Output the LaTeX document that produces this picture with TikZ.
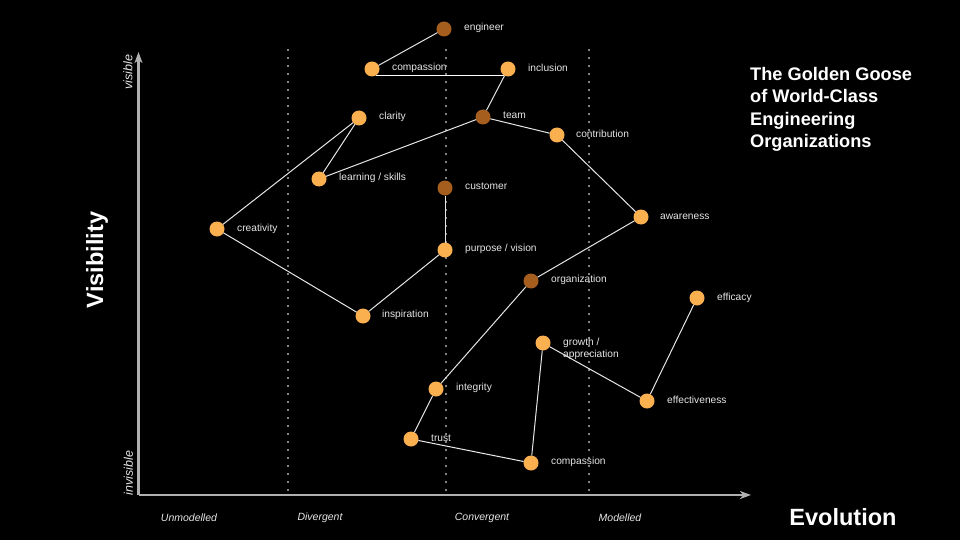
\documentclass[tikz,border=0pt]{standalone}
\usepackage{fontspec}
\setmainfont{Liberation Sans}
\usetikzlibrary{arrows.meta}
\definecolor{dotorange}{HTML}{FBB04F}
\definecolor{dotbrown}{HTML}{A65E1E}
\definecolor{axisgray}{HTML}{B0B0B0}
\definecolor{labelgray}{HTML}{E6E6E6}
\begin{document}
\begin{tikzpicture}[x=1pt,y=-1pt,
  dotA/.style={circle,fill=dotorange,minimum size=15pt,inner sep=0pt,outer sep=0pt},
  dotB/.style={circle,fill=dotbrown,minimum size=15pt,inner sep=0pt,outer sep=0pt},
  lbl/.style={anchor=west,text=labelgray,font=\fontsize{10.2}{12}\selectfont,inner sep=0pt},
  axlbl/.style={text=labelgray,font=\fontsize{10.5}{12.5}\selectfont\itshape,inner sep=0pt},
  vlbl/.style={text=labelgray,font=\fontsize{12.5}{14}\selectfont\itshape,inner sep=0pt,rotate=90},
  edge/.style={draw=labelgray,line width=1pt},
  stagedots/.style={draw=axisgray,line width=2.4pt,line cap=round,dash pattern=on 0pt off 8pt},
  axis/.style={draw=axisgray,line width=2.2pt,-{Stealth[length=11pt,width=8pt,inset=3pt]}},
  big/.style={text=white,font=\fontsize{23.5}{28}\selectfont\bfseries,inner sep=0pt}
]
\fill[black] (0,0) rectangle (960,540);
\useasboundingbox (0,0) rectangle (960,540);

% labels
\node[lbl] at (464,28) {engineer};
\node[lbl] at (392,68) {compassion};
\node[lbl] at (528,68) {inclusion};
\node[lbl] at (503,115) {team};
\node[lbl] at (576,134) {contribution};
\node[lbl] at (379,117) {clarity};
\node[lbl] at (339,178) {learning / skills};
\node[lbl] at (465,186) {customer};
\node[lbl] at (237,229) {creativity};
\node[lbl] at (465,249) {purpose / vision};
\node[lbl] at (660,217) {awareness};
\node[lbl] at (551,280) {organization};
\node[lbl] at (382,315) {inspiration};
\node[lbl] at (717,298) {efficacy};
\node[lbl,align=left,anchor=north west] at (563,338) {growth /\\appreciation};
\node[lbl] at (667,400) {effectiveness};
\node[lbl] at (456,388) {integrity};
\node[lbl] at (431,438) {trust};
\node[lbl] at (551,462) {compassion};

% stage separators
\coordinate (s1t) at (288,50); \coordinate (s1b) at (288,492);
\coordinate (s2t) at (446,50); \coordinate (s2b) at (446,492);
\coordinate (s3t) at (589,50); \coordinate (s3b) at (589,492);
\draw[stagedots] (s1t) -- (s1b);
\draw[stagedots] (s2t) -- (s2b);
\draw[stagedots] (s3t) -- (s3b);

% axes
\coordinate (origin) at (138.5,495);
\coordinate (ytip) at (138.5,52);
\coordinate (xtip) at (751,495);
\draw[axis] (origin) -- (ytip);
\draw[axis] (origin) -- (xtip);

% dots
\node[dotB] (engineer) at (444,29) {};
\node[dotA] (comp1) at (372,69) {};
\node[dotA] (inclusion) at (508,69) {};
\node[dotB] (team) at (483,117) {};
\node[dotA] (contribution) at (557,135) {};
\node[dotA] (clarity) at (359,118) {};
\node[dotA] (learning) at (319,179) {};
\node[dotB] (customer) at (445,188) {};
\node[dotA] (creativity) at (217,229) {};
\node[dotA] (purpose) at (445,250) {};
\node[dotA] (awareness) at (641,217) {};
\node[dotB] (organization) at (531,281) {};
\node[dotA] (inspiration) at (363,316) {};
\node[dotA] (efficacy) at (697,298) {};
\node[dotA] (growth) at (543,343) {};
\node[dotA] (effectiveness) at (647,401) {};
\node[dotA] (integrity) at (436,389) {};
\node[dotA] (trust) at (411,439) {};
\node[dotA] (comp2) at (531,463) {};

% connectors
\draw[edge] (engineer) -- (comp1);
\draw[edge,line width=1.3pt,draw=white] (comp1.-60) -- (inclusion.240);
\draw[edge] (inclusion) -- (team);
\draw[edge] (team) -- (learning);
\draw[edge] (team) -- (contribution);
\draw[edge] (clarity) -- (learning);
\draw[edge] (clarity) -- (creativity);
\draw[edge] (creativity) -- (inspiration);
\draw[edge] (inspiration) -- (purpose);
\draw[edge] (purpose) -- (customer);
\draw[edge] (contribution) -- (awareness);
\draw[edge] (awareness) -- (organization);
\draw[edge] (organization) -- (integrity);
\draw[edge] (integrity) -- (trust);
\draw[edge] (trust) -- (comp2);
\draw[edge] (comp2) -- (growth);
\draw[edge] (growth) -- (effectiveness);
\draw[edge] (effectiveness) -- (efficacy);

% axis texts
\node[vlbl] (visible) at (128,72) {visible};
\node[vlbl] (invisible) at (128.5,473) {invisible};
\node[axlbl] (unmod) at (189,518) {Unmodelled};
\node[axlbl] (diverg) at (320,518) {Divergent};
\node[axlbl] (converg) at (482,518) {Convergent};
\node[axlbl] (modell) at (620,518) {Modelled};
\node[big] (evo) at (843,517) {Evolution};
\node[big,rotate=90] (vis) at (97,260) {Visibility};

% title
\node[anchor=north west,align=left,text=white,inner sep=0pt,
      font=\fontsize{18.2}{22.5}\selectfont\bfseries] (title) at (750,67)
  {The Golden Goose\\of World-Class\\Engineering\\Organizations};
\end{tikzpicture}
\end{document}
